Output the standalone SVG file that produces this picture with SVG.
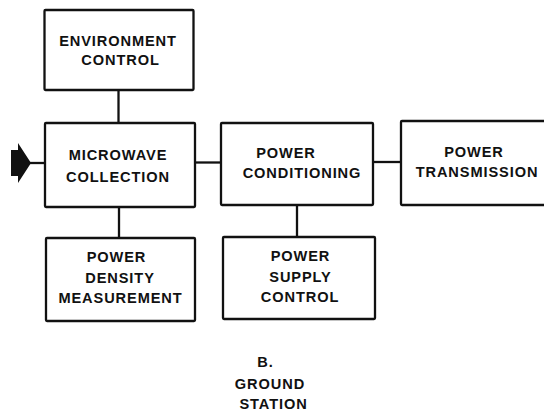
<svg xmlns="http://www.w3.org/2000/svg" width="544" height="413" viewBox="0 0 544 413">
<style>
.box{fill:#fff;stroke:#111;stroke-width:2.3}
.ln{stroke:#111;stroke-width:2.3;fill:none}
text{font-family:"Liberation Sans",Arial,sans-serif;font-weight:bold;font-size:14.6px;fill:#111;letter-spacing:0.9px;text-anchor:middle}
</style>
<rect width="544" height="413" fill="#fff"/>
<g id="connectors">
<polygon points="11,150 18,150 18,143 31,163 18,183 18,176 11,176" fill="#111"/>
<line class="ln" x1="30" y1="163" x2="45" y2="163"/>
<line class="ln" x1="118.5" y1="90" x2="118.5" y2="123"/>
<line class="ln" x1="119" y1="207" x2="119" y2="238"/>
<line class="ln" x1="195" y1="162.5" x2="221" y2="162.5"/>
<line class="ln" x1="373" y1="162" x2="401" y2="162"/>
<line class="ln" x1="297" y1="205" x2="297" y2="237"/>
</g>
<g id="environment-control">
<rect class="box" x="44.5" y="10" width="149" height="80" rx="1"/>
<text x="118" y="45.7">ENVIRONMENT</text>
<text x="120.5" y="65">CONTROL</text>
</g>
<g id="microwave-collection">
<rect class="box" x="45" y="123" width="150" height="84" rx="1"/>
<text x="118" y="160">MICROWAVE</text>
<text x="118" y="181.7">COLLECTION</text>
</g>
<g id="power-conditioning">
<rect class="box" x="221" y="123" width="152" height="82" rx="1"/>
<text x="286" y="158.3">POWER</text>
<text x="302" y="177.7">CONDITIONING</text>
</g>
<g id="power-transmission">
<rect class="box" x="401" y="121" width="150" height="84" rx="1"/>
<text x="474" y="157.3">POWER</text>
<text x="477" y="176.7">TRANSMISSION</text>
</g>
<g id="power-density-measurement">
<rect class="box" x="46" y="238" width="149" height="83" rx="1"/>
<text x="116.5" y="262.3">POWER</text>
<text x="120" y="282.7">DENSITY</text>
<text x="120.5" y="303.3">MEASUREMENT</text>
</g>
<g id="power-supply-control">
<rect class="box" x="223" y="237" width="152" height="82" rx="1"/>
<text x="300.5" y="260.7">POWER</text>
<text x="300.5" y="281.7">SUPPLY</text>
<text x="300" y="301.7">CONTROL</text>
</g>
<g id="caption">
<text x="265.5" y="367.3">B.</text>
<text x="270" y="389.3">GROUND</text>
<text x="273.5" y="409.3">STATION</text>
</g>
</svg>
